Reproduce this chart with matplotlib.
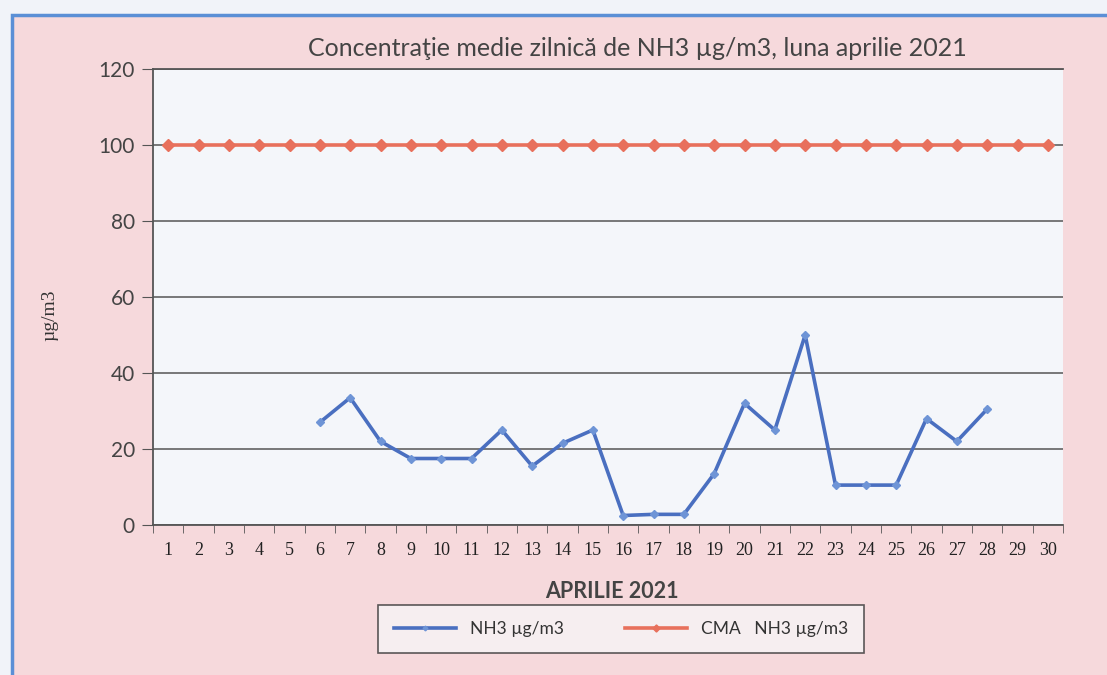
import matplotlib.pyplot as plt
from matplotlib.patches import Rectangle
import numpy as np

# date
zile = list(range(1, 31))
nh3_zile = [6, 7, 8, 9, 10, 11, 12, 13, 14, 15, 16, 17, 18, 19, 20, 21, 22, 23, 24, 25, 26, 27, 28]
nh3 = [27, 33.5, 22, 17.5, 17.5, 17.5, 25, 15.5, 21.5, 25, 2.5, 2.8, 2.8, 13.5, 32,
       25, 50, 10.5, 10.5, 10.5, 28, 22, 30.5]
cma = [100] * 30

fig = plt.figure(figsize=(11.07, 6.75), dpi=100)
fig.patch.set_facecolor('#f1f3f9')

# chenarul albastru al diagramei (scanat)
fundal = Rectangle((12 / 1107, -0.01), 1.0, 1.01 - 15 / 675, transform=fig.transFigure,
                   facecolor='#f6d9dc', edgecolor='#5b8fd6', linewidth=2.5, zorder=-5)
fig.patches.append(fundal)

ax = fig.add_axes([153 / 1107, 1 - 525 / 675, 910 / 1107, 456 / 675])
ax.set_zorder(2)
ax.set_facecolor('#f4f6fa')

ax.plot(nh3_zile, nh3, color='#4a6fc0', lw=2.6, marker='D', ms=4,
        mfc='#6e94d6', mec='#6e94d6', label='NH3 µg/m3', zorder=3)
ax.plot(zile, cma, color='#e8705c', lw=2.6, marker='D', ms=6,
        mfc='#e8705c', mec='#e8705c', label='CMA   NH3 µg/m3', zorder=3)

ax.set_xlim(0.5, 30.5)
ax.set_ylim(0, 120)
ax.set_yticks(range(0, 121, 20))
ax.set_xticks(zile)
ax.set_xticks(np.arange(0.5, 31, 1), minor=True)
ax.tick_params(axis='x', which='major', length=0, pad=12)
ax.tick_params(axis='x', which='minor', length=6, color='#555555', direction='out')
ax.tick_params(axis='y', length=8, color='#555555', direction='out', pad=5)
ax.set_xticklabels([str(z) for z in zile], family='Liberation Serif', fontsize=13,
                   color='#222222')
for lbl in ax.get_yticklabels():
    lbl.set_family('Lato')
    lbl.set_fontsize(15)
    lbl.set_color('#444444')

ax.grid(axis='y', color='#555555', lw=1.1)
ax.set_axisbelow(True)
for s in ['top', 'right']:
    ax.spines[s].set_visible(False)
for s in ['left', 'bottom']:
    ax.spines[s].set_color('#555555')
    ax.spines[s].set_linewidth(1.3)
ax.axhline(120, color='#555555', lw=1.3, clip_on=False)

fig.text(637 / 1107, 1 - 48 / 675, 'Concentraţie medie zilnică de NH3 µg/m3, luna aprilie 2021',
         ha='center', va='center', fontsize=18, family='Lato', color='#444444')
fig.text(612 / 1107, 1 - 592 / 675, 'APRILIE 2021', ha='center', va='center',
         fontsize=15.5, family='Lato', fontweight='bold', color='#444444')
fig.text(50 / 1107, 1 - 315 / 675, 'µg/m3', ha='center', va='center', rotation=90,
         fontsize=14, family='Liberation Serif', color='#333333')

leg = ax.legend(loc='center', bbox_to_anchor=(621 / 1107, 1 - 629 / 675),
                bbox_transform=fig.transFigure, ncol=2, frameon=True, fancybox=False,
                prop={'family': 'Lato', 'size': 12.5}, handlelength=3.6,
                columnspacing=3.5, borderpad=0.9, borderaxespad=0, markerscale=0.6)
leg.get_frame().set_edgecolor('#333333')
leg.get_frame().set_facecolor('#f6f4f6')
leg.get_frame().set_linewidth(1.2)
for t in leg.get_texts():
    t.set_color('#333333')

fig.savefig('out.png', dpi=100, facecolor=fig.get_facecolor())
